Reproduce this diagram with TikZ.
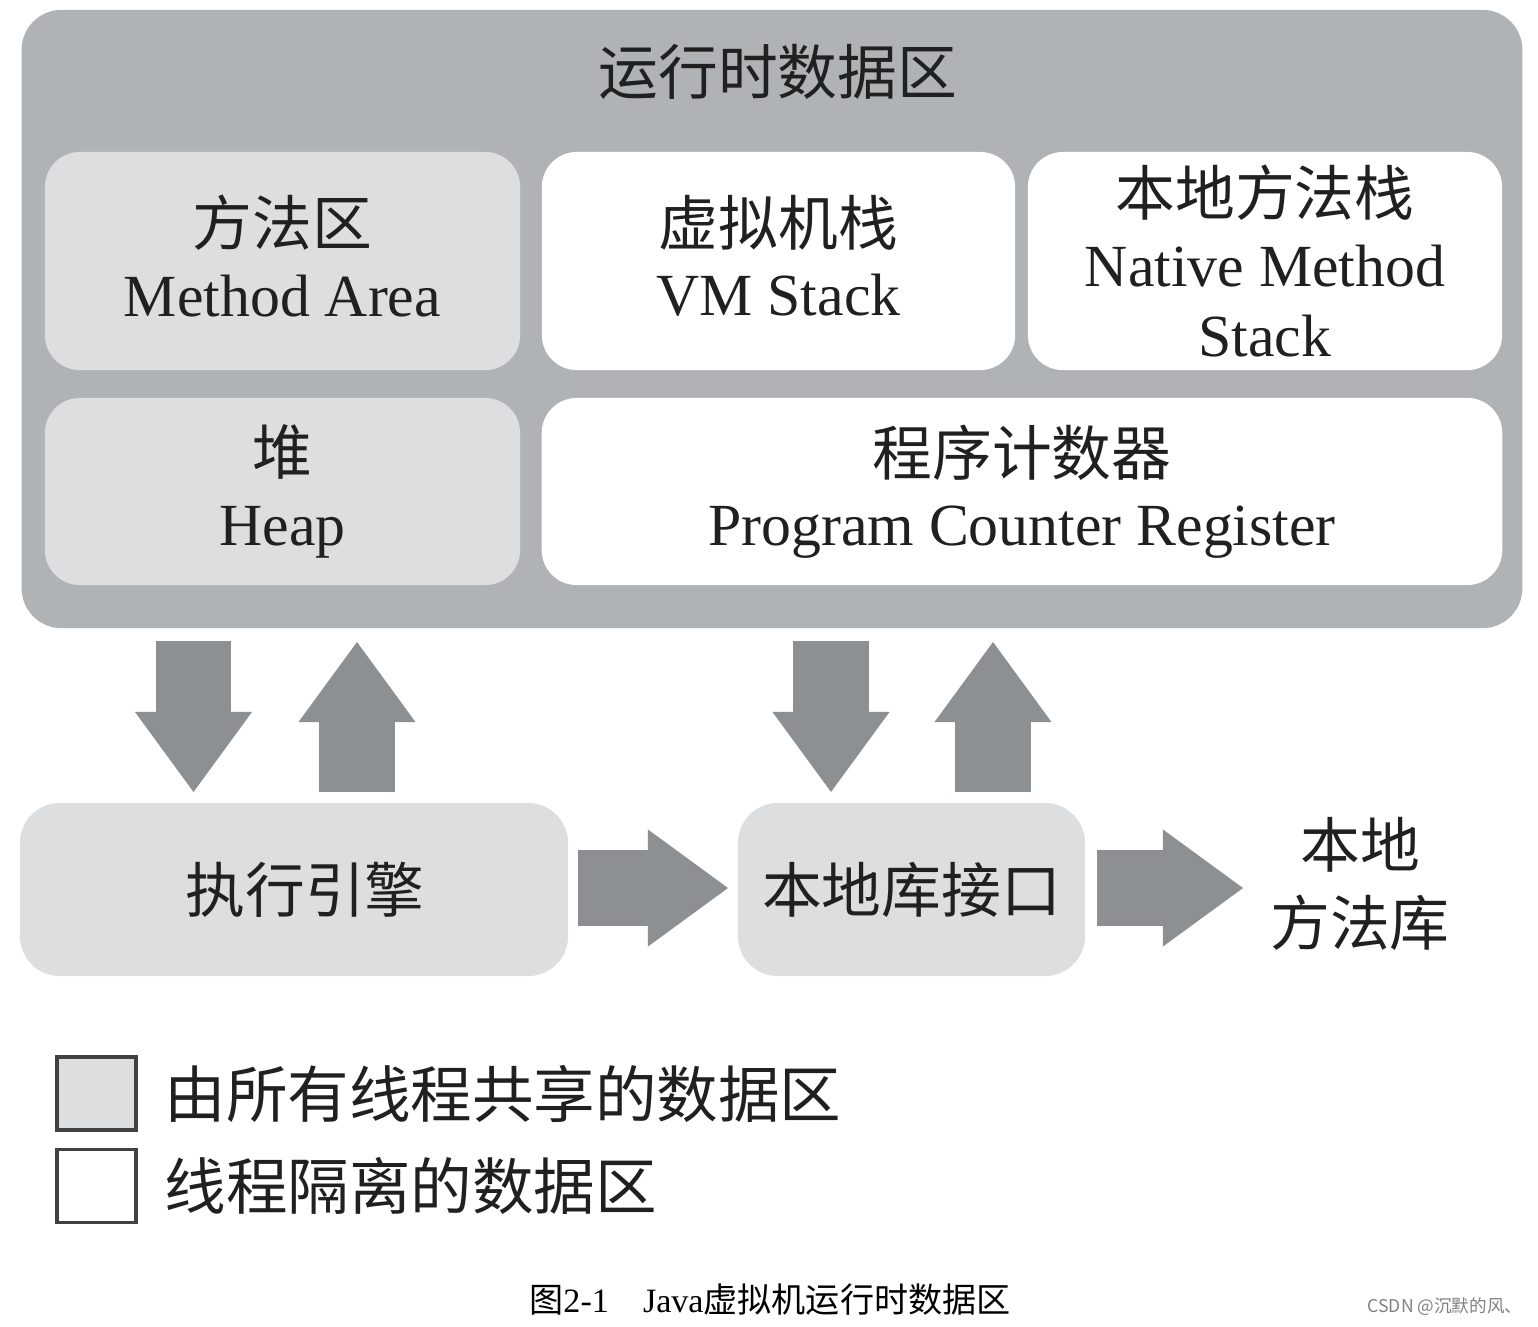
\documentclass[tikz,border=0pt]{standalone}
\usepackage{fontspec}
\setmainfont{Liberation Serif}
\newfontfamily\cjk{Noto Sans CJK SC}
\usepackage{tikz}
\usetikzlibrary{arrows.meta, positioning}

\definecolor{areagray}{RGB}{176,179,182}
\definecolor{sharedgray}{RGB}{220,222,224}
\definecolor{arrowgray}{RGB}{141,144,147}
\definecolor{inkgray}{RGB}{32,32,32}

\newcommand{\areafont}{\fontsize{17}{20}\selectfont}
\newcommand{\keyfont}{\fontsize{17.5}{20}\selectfont}
\newcommand{\captionfont}{\fontsize{9.7}{11}\selectfont}
\newcommand{\markfont}{\fontsize{5}{6}\selectfont}

\tikzset{
  region/.style={rounded corners=0.35cm, align=center, inner sep=0pt, font=\areafont, text=inkgray},
  sharedbox/.style={region, fill=sharedgray},
  threadbox/.style={region, fill=white},
  legendbox/.style={draw=inkgray!85, line width=1pt, minimum width=0.79cm, minimum height=0.73cm, inner sep=0pt},
  fatarrow/.style={draw=arrowgray, line width=0.75cm, -{Triangle[width=1.17cm, length=0.8cm, line width=0pt]}}
}

\begin{document}
\begin{tikzpicture}[x=0.01cm, y=-0.01cm]
    \path[use as bounding box] (0,0) rectangle (1538,1326);

    % Runtime data area
    \node[region, fill=areagray, rounded corners=0.4cm, minimum width=15cm, minimum height=6.18cm] (rtda) at (772,319) {};
    \node[font=\areafont, text=inkgray] (rtda-title) at (778,72) {\cjk 运行时数据区};

    % Areas inside
    \node[sharedbox, minimum width=4.75cm, minimum height=2.18cm] (method) at (282.5,261) {};
    \node[region] (method-label) at ([yshift=0.05cm]method.center) {{\cjk 方法区}\\Method Area};
    \node[threadbox, minimum width=4.73cm, minimum height=2.18cm] (vmstack) at (778.5,261) {};
    \node[region] (vmstack-label) at ([yshift=0.05cm]vmstack.center) {{\cjk 虚拟机栈}\\VM Stack};
    \node[threadbox, minimum width=4.74cm, minimum height=2.18cm] (nativestack) at (1265,261) {{\cjk 本地方法栈}\\Native Method\\Stack};
    \node[sharedbox, minimum width=4.75cm, minimum height=1.87cm] (heap) at (282.5,491.5) {{\cjk 堆}\\Heap};
    \node[threadbox, minimum width=9.6cm, minimum height=1.87cm] (pcreg) at (1022,491.5) {{\cjk 程序计数器}\\Program Counter Register};

    % Engine, native interface, libraries
    \node[sharedbox, rounded corners=0.4cm, minimum width=5.48cm, minimum height=1.73cm] (engine) at (294,889.5) {};
    \node[region] (engine-label) at ([xshift=0.11cm]engine.center) {\cjk 执行引擎};
    \node[sharedbox, rounded corners=0.4cm, minimum width=3.47cm, minimum height=1.73cm] (jni) at (911.5,889.5) {\cjk 本地库接口};
    \node[font={\fontsize{17}{22}\selectfont\cjk}, text=inkgray, align=center, inner sep=0pt] (nativelib) at (1360,884) {本地\\方法库};

    % Arrow ends
    \coordinate (eng-in-top) at (193.5,641);
    \coordinate (eng-in-bot) at (193.5,792);
    \coordinate (eng-out-bot) at (357,792);
    \coordinate (eng-out-top) at (357,642);
    \coordinate (jni-in-top) at (831,641);
    \coordinate (jni-in-bot) at (831,792);
    \coordinate (jni-out-bot) at (993,792);
    \coordinate (jni-out-top) at (993,642);
    \coordinate (eng-right) at (578,888);
    \coordinate (jni-left) at (728,888);
    \coordinate (jni-right) at (1097,888);
    \coordinate (lib-left) at (1243,888);

    % Block arrows
    \draw[fatarrow] (eng-in-top) -- (eng-in-bot);
    \draw[fatarrow] (eng-out-bot) -- (eng-out-top);
    \draw[fatarrow] (jni-in-top) -- (jni-in-bot);
    \draw[fatarrow] (jni-out-bot) -- (jni-out-top);
    \draw[fatarrow] (eng-right) -- (jni-left);
    \draw[fatarrow] (jni-right) -- (lib-left);

    % Legend
    \node[legendbox, fill=sharedgray] (key-shared) at (96.5,1093.5) {};
    \node[legendbox, fill=white] (key-thread) at (96.5,1186) {};
    \node[right=0.26cm of key-shared, inner sep=0pt, font=\keyfont, text=inkgray] (key-shared-text) {\cjk 由所有线程共享的数据区};
    \node[right=0.26cm of key-thread, inner sep=0pt, font=\keyfont, text=inkgray] (key-thread-text) {\cjk 线程隔离的数据区};

    % Caption and mark
    \node[font=\captionfont, text=black] (caption) at (770,1300) {{\cjk 图}2-1\quad Java{\cjk 虚拟机运行时数据区}};
    \node[font=\markfont, text=gray] (watermark) at (1445,1307) {\cjk CSDN @沉默的风、};

\end{tikzpicture}
\end{document}
